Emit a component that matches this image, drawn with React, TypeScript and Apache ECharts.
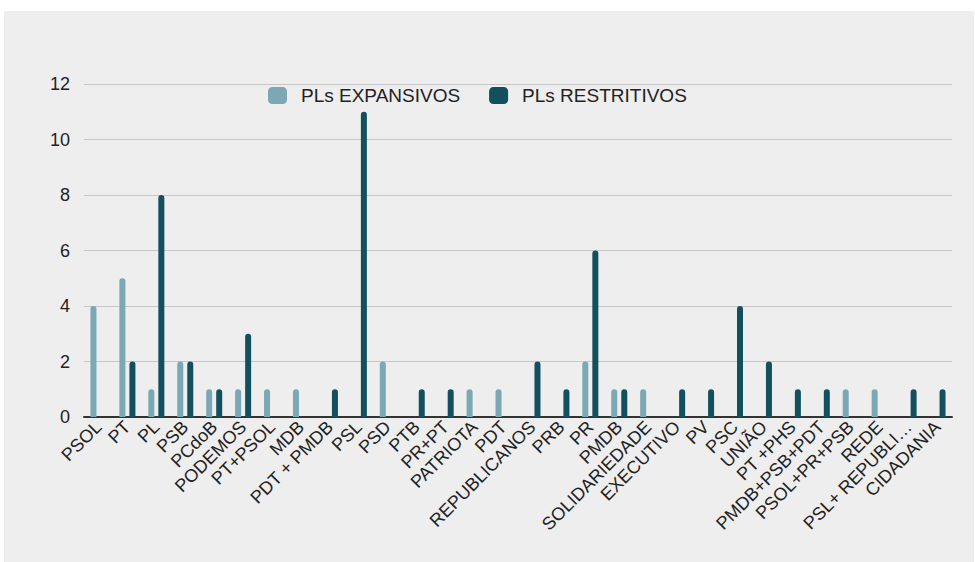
import React, { useEffect, useRef } from "react";
import * as echarts from "echarts";

const categories = [
  "PSOL", "PT", "PL", "PSB", "PCdoB", "PODEMOS", "PT+PSOL", "MDB", "PDT + PMDB", "PSL",
  "PSD", "PTB", "PR+PT", "PATRIOTA", "PDT", "REPUBLICANOS", "PRB", "PR", "PMDB", "SOLIDARIEDADE",
  "EXECUTIVO", "PV", "PSC", "UNIÃO", "PT +PHS", "PMDB+PSB+PDT", "PSOL+PR+PSB", "REDE", "PSL+ REPUBLI…", "CIDADANIA",
];
const expansivos = [4, 5, 1, 2, 1, 1, 1, 1, 0, 0, 2, 0, 0, 1, 1, 0, 0, 2, 1, 1, 0, 0, 0, 0, 0, 0, 1, 1, 0, 0];
const restritivos = [0, 2, 8, 2, 1, 3, 0, 0, 1, 11, 0, 1, 1, 0, 0, 2, 1, 6, 1, 0, 1, 1, 4, 2, 1, 1, 0, 0, 1, 1];
const seriesNames = ["PLs EXPANSIVOS", "PLs RESTRITIVOS"];
const yTicks = { min: 0, max: 12, interval: 2 };

const COLORS = ["#7aa8b4", "#134f5c"];
const FONT = "Arial, 'Liberation Sans', sans-serif";

export default function App() {
  const ref = useRef<HTMLDivElement>(null);
  useEffect(() => {
    if (!ref.current) return;
    const chart = echarts.init(ref.current, undefined, { renderer: "svg" });
    chart.setOption({
      animation: false,
      backgroundColor: "#eeeeee",
      textStyle: { fontFamily: FONT },
      legend: {
        left: 264,
        top: 75,
        padding: 0,
        itemWidth: 19,
        itemHeight: 17,
        itemGap: 29,
        icon: "roundRect",
        textStyle: { fontSize: 19, color: "#222222", fontFamily: FONT, padding: [0, 0, 0, 9] },
        data: seriesNames,
      },
      grid: { left: 80, right: 22, top: 73, bottom: 145, containLabel: false },
      xAxis: {
        type: "category",
        data: categories,
        axisLine: { lineStyle: { color: "#333333", width: 2 } },
        axisTick: { show: false },
        axisLabel: {
          rotate: 45,
          interval: 0,
          fontSize: 18,
          color: "#222222",
          fontFamily: FONT,
          margin: 7,
        },
      },
      yAxis: {
        type: "value",
        min: yTicks.min,
        max: yTicks.max,
        interval: yTicks.interval,
        axisLine: { show: false },
        axisTick: { show: false },
        splitLine: { lineStyle: { color: "#c6c6c6", width: 1 } },
        axisLabel: { fontSize: 18, color: "#222222", fontFamily: FONT, margin: 14 },
      },
      series: [
        {
          name: seriesNames[0],
          type: "bar",
          data: expansivos,
          barWidth: 6,
          barGap: "67%",
          itemStyle: { color: COLORS[0], borderRadius: [3, 3, 0, 0] },
        },
        {
          name: seriesNames[1],
          type: "bar",
          data: restritivos,
          barWidth: 6,
          barGap: "67%",
          itemStyle: { color: COLORS[1], borderRadius: [3, 3, 0, 0] },
        },
      ],
    });
    return () => chart.dispose();
  }, []);

  return (
    <div style={{ position: "absolute", left: 0, top: 0, width: 975, height: 562, background: "#ffffff" }}>
      <div ref={ref} style={{ position: "absolute", left: 4, top: 11, width: 970, height: 551 }} />
    </div>
  );
}
